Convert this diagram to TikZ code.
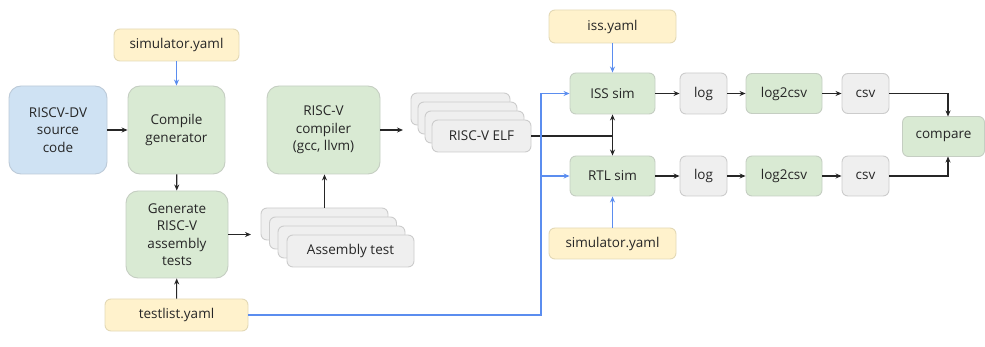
\documentclass[tikz,border=0pt]{standalone}
\usepackage{fontspec}
\setmainfont{Open Sans}
\usetikzlibrary{arrows.meta,positioning,calc}
\definecolor{yfill}{HTML}{FFF2CC}
\definecolor{yline}{HTML}{E3D9B6}
\definecolor{gfill}{HTML}{D9EAD3}
\definecolor{gline}{HTML}{C5CEC2}
\definecolor{bfill}{HTML}{CFE2F3}
\definecolor{bline}{HTML}{BCCAD8}
\definecolor{kfill}{HTML}{EFEFEF}
\definecolor{kline}{HTML}{CCCCCC}
\definecolor{flow}{HTML}{5B8DEF}
\tikzset{
  box/.style={rounded corners=6pt, line width=0.9pt, align=center, inner sep=0pt,
    font=\fontsize{13.5}{17.5}\selectfont, text=black!85},
  cfg/.style={box, fill=yfill, draw=yline},
  proc/.style={box, fill=gfill, draw=gline},
  srcbox/.style={box, fill=bfill, draw=bline},
  data/.style={box, fill=kfill, draw=kline},
  big/.style={rounded corners=12pt},
  link/.style={line width=1.1pt, draw=black!85, -{Stealth[length=6pt,width=5pt]}},
  plain/.style={line width=1.1pt, draw=black!85},
  cfglink/.style={line width=1.2pt, draw=flow, -{Stealth[length=6pt,width=5pt]}},
  cfgline/.style={line width=1.2pt, draw=flow},
}
\begin{document}
\begin{tikzpicture}[x=1pt,y=-1pt]
\useasboundingbox (0,0) rectangle (985,347);

% left column: generator build and test generation
\node[cfg, minimum width=125pt, minimum height=32pt] (simcfgA) at (176.5,45) {simulator.yaml};
\node[srcbox, big, minimum width=98pt, minimum height=88pt] (src) at (58,130) {RISCV-DV\\source\\code};
\node[proc, big, minimum width=97pt, minimum height=88pt] (compile) at (176.5,130) {Compile\\generator};
\node[proc, big, minimum width=102pt, minimum height=87pt] (gen) at (177,234.5) {Generate\\RISC-V\\assembly\\tests};
\node[cfg, minimum width=143pt, minimum height=32pt] (testlist) at (176.5,315) {testlist.yaml};

% compiler and its stacked inputs / outputs
\node[proc, big, minimum width=113pt, minimum height=88pt] (cc) at (323.5,130) {RISC-V\\compiler\\(gcc, llvm)};
\node[data, minimum width=127pt, minimum height=32pt] (asmA) at (324.5,224) {};
\node[data, minimum width=127pt, minimum height=32pt] (asmB) at (333,233) {};
\node[data, minimum width=127pt, minimum height=32pt] (asmC) at (341.5,242) {};
\node[data, minimum width=127pt, minimum height=32pt] (asmD) at (350.5,251) {Assembly test};
\node[data, minimum width=99pt, minimum height=32pt] (elfA) at (460.5,109) {};
\node[data, minimum width=99pt, minimum height=32pt] (elfB) at (467.5,118) {};
\node[data, minimum width=99pt, minimum height=32pt] (elfC) at (474.5,127) {};
\node[data, minimum width=99pt, minimum height=32pt] (elfD) at (481.5,136) {RISC-V ELF};

% simulation and comparison
\node[cfg, minimum width=127pt, minimum height=33pt] (isscfg) at (612.5,26.5) {iss.yaml};
\node[proc, minimum width=85pt, minimum height=41pt] (iss) at (612.5,93.5) {ISS sim};
\node[proc, minimum width=85pt, minimum height=40pt] (rtl) at (612.5,176) {RTL sim};
\node[cfg, minimum width=127pt, minimum height=31pt] (simcfgB) at (612.5,243.5) {simulator.yaml};
\node[data, minimum width=47pt, minimum height=41pt] (logA) at (703.5,93.5) {log};
\node[proc, minimum width=76pt, minimum height=40pt] (convA) at (784,93.5) {log2csv};
\node[data, minimum width=47pt, minimum height=40pt] (csvA) at (865.5,93.5) {csv};
\node[data, minimum width=47pt, minimum height=40pt] (logB) at (703.5,176) {log};
\node[proc, minimum width=76pt, minimum height=40pt] (convB) at (784,176) {log2csv};
\node[data, minimum width=47pt, minimum height=40pt] (csvB) at (865.5,176) {csv};
\node[proc, minimum width=82pt, minimum height=40pt] (cmp) at (943.5,136.5) {compare};

\coordinate (asmIn) at (251,234.5);
\coordinate (elfIn) at (403,130);
\coordinate (fork) at (612.5,136);
\coordinate (busTop) at (541,93.5);
\coordinate (busMid) at (541,176);
\coordinate (busBot) at (541,315);
\coordinate (cmpTop) at (948,116.5);
\coordinate (cmpBot) at (948,156.5);

% connectors
\draw[cfglink] (simcfgA) -- (compile);
\draw[link] (src) -- (compile);
\draw[link] (compile) -- (gen);
\draw[link] (testlist) -- (gen);
\draw[link] (gen.east) -- (asmIn);
\draw[link] (asmA.north) -- (asmA.north |- cc.south);
\draw[link] (cc.east) -- (elfIn);
\draw[plain] (elfD.east) -- (fork);
\draw[link] (fork) -- (iss.south);
\draw[link] (fork) -- (rtl.north);
\draw[cfglink] (isscfg) -- (iss);
\draw[cfglink] (simcfgB) -- (rtl);
\draw[cfgline] (testlist.east) -- (busBot) -- (busTop);
\draw[cfglink] (busTop) -- (iss.west);
\draw[cfglink] (busMid) -- (rtl.west);
\draw[link] (iss) -- (logA);
\draw[link] (logA) -- (convA);
\draw[link] (convA) -- (csvA);
\draw[link] (rtl) -- (logB);
\draw[link] (logB) -- (convB);
\draw[link] (convB) -- (csvB);
\draw[link] (csvA.east) -| (cmpTop);
\draw[link] (csvB.east) -| (cmpBot);
\end{tikzpicture}
\end{document}
